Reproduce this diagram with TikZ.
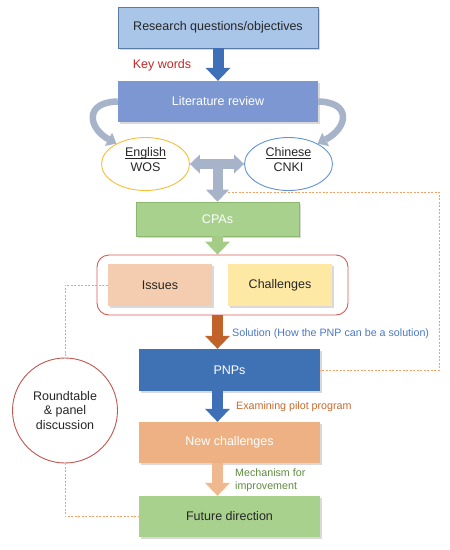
\documentclass[tikz,border=0pt]{standalone}
\usepackage{fontspec}
\setmainfont{Liberation Sans}
\usepackage{tikz}
\usetikzlibrary{arrows.meta,shapes.geometric,shadows}
\definecolor{rqfill}{HTML}{A9C5E8}
\definecolor{rqline}{HTML}{5A7BA3}
\definecolor{litfill}{HTML}{7C97D1}
\definecolor{curvgray}{HTML}{A6B3C8}
\definecolor{cpafill}{HTML}{A9D18E}
\definecolor{cpaline}{HTML}{8DB66F}
\definecolor{issfill}{HTML}{F4CDB0}
\definecolor{chafill}{HTML}{FDE8A4}
\definecolor{pnpfill}{HTML}{3F71B5}
\definecolor{newfill}{HTML}{EDB183}
\definecolor{arrblue}{HTML}{3F6FB6}
\definecolor{arrgreen}{HTML}{A4CC87}
\definecolor{arrbrown}{HTML}{C0622A}
\definecolor{arrpeach}{HTML}{F0B88E}
\definecolor{framered}{HTML}{D75B55}
\definecolor{circred}{HTML}{C2554E}
\definecolor{dashor}{HTML}{F4A165}
\definecolor{keyred}{HTML}{C02A2A}
\definecolor{solblue}{HTML}{4A78C2}
\definecolor{exorange}{HTML}{C8692E}
\definecolor{mechgreen}{HTML}{5D8B3E}
\definecolor{engyel}{HTML}{F5BD3A}
\definecolor{chiblue}{HTML}{5E93D6}
\definecolor{txt}{HTML}{262626}
\def\boxfont{\fontsize{12.5}{15}\selectfont}
\def\labfont{\fontsize{10.7}{13}\selectfont}
\def\ulword#1{\underline{\smash{#1}}}

\begin{document}
\begin{tikzpicture}[x=1pt,y=-1pt,
    box/.style={rectangle, inner sep=0pt, font=\boxfont, text=txt,
      minimum width=181pt, minimum height=41pt,
      drop shadow={shadow xshift=1.5pt,shadow yshift=-1.5pt,opacity=0.3}},
    oval/.style={ellipse, draw=#1, line width=0.9pt, inner sep=0pt, minimum width=88pt,
      minimum height=53pt, align=center, font=\boxfont, text=txt},
    barrow/.style={line width=11pt, draw=#1, -{Triangle[width=25pt,length=13pt,line width=0pt]}},
    curvarrow/.style={line width=6.5pt, draw=curvgray, -{Triangle[width=15pt,length=9pt,line width=0pt]}},
    dashline/.style={draw=dashor, line width=0.8pt, dash pattern=on 2pt off 1.5pt},
    lab/.style={anchor=west, font=\labfont, align=left, inner sep=0pt}]
  \useasboundingbox (0,0) rectangle (450,550);

  \node (research) at (218,27.5) [box, fill=rqfill, draw=rqline, line width=0.6pt, minimum width=200pt] {Research questions/objectives};
  \node (litrev) at (218,101.5) [box, fill=litfill, text=white, minimum width=200pt] {Literature review};
  \node (english) at (145.5,164) [oval=engyel] {\ulword{English}\\WOS};
  \node (chinese) at (288.5,164) [oval=chiblue] {\ulword{Chinese}\\CNKI};
  \node (cpas) at (217.5,219) [box, fill=cpafill, draw=cpaline, line width=0.6pt, text=white, minimum width=163pt, minimum height=34pt] {CPAs};
  \node (frame) at (222.5,285) [rectangle, draw=framered, line width=0.9pt, rounded corners=12pt, minimum width=251pt, minimum height=60pt] {};
  \node (issues) at (160,285) [box, fill=issfill, minimum width=104pt, minimum height=42pt, drop shadow={opacity=0}] {Issues};
  \node (challenges) at (280,285) [box, fill=chafill, minimum width=104pt, minimum height=42pt, drop shadow={opacity=0}] {Challenges};
  \node (pnps) at (229.5,370) [box, fill=pnpfill, text=white, minimum height=42pt] {PNPs};
  \node (newch) at (229.5,442.5) [box, fill=newfill, text=white] {New challenges};
  \node (future) at (229.5,516.5) [box, fill=cpafill] {Future direction};
  \node (round) at (65,410.5) [circle, draw=circred, line width=0.9pt, minimum size=105pt, inner sep=0pt,
    align=center, font=\fontsize{12.5}{14.5}\selectfont, text=txt] {Roundtable\\\& panel\\discussion};

  \node (keywords) at (162,65) [font=\boxfont, text=keyred, inner sep=0pt] {Key words};
  \node (solution) at (232,334) [lab, text=solblue] {Solution (How the PNP can be a solution)};
  \node (examining) at (236,407) [lab, text=exorange] {Examining pilot program};
  \node (mechanism) at (235,480.5) [lab, text=mechgreen] {Mechanism for\\improvement};

  % block arrows down the middle
  \draw[barrow=arrblue] (research.south) -- (litrev.north);
  \draw[barrow=arrgreen] (cpas.south) -- (cpas.south |- frame.north);
  \draw[barrow=arrbrown] (cpas.south |- frame.south) -- (cpas.south |- pnps.north);
  \draw[barrow=arrblue] (cpas.south |- pnps.south) -- (cpas.south |- newch.north);
  \draw[barrow=arrpeach] (cpas.south |- newch.south) -- (cpas.south |- future.north);

  \draw[curvarrow] (litrev.west) .. controls (84,102) and (88,128) .. (english.145);
  \draw[curvarrow] (litrev.east) .. controls (352,102) and (348,128) .. (chinese.35);

  \draw[line width=9.5pt, draw=curvgray, {Triangle[width=19pt,length=10pt,line width=0pt]}-{Triangle[width=19pt,length=10pt,line width=0pt]}] (english.east) -- (chinese.west);
  \draw[line width=10pt, draw=curvgray, -{Triangle[width=23pt,length=12pt,line width=0pt]}] (cpas.north |- english.east) -- (cpas.north);

  \coordinate (dstart) at (228,192);
  \draw[dashline] (dstart) -- (439,192) |- (pnps.east);
  \draw[dashline] (issues.west) -| (round.north);
  \draw[dashline] (round.south) |- (future.west);
\end{tikzpicture}
\end{document}
